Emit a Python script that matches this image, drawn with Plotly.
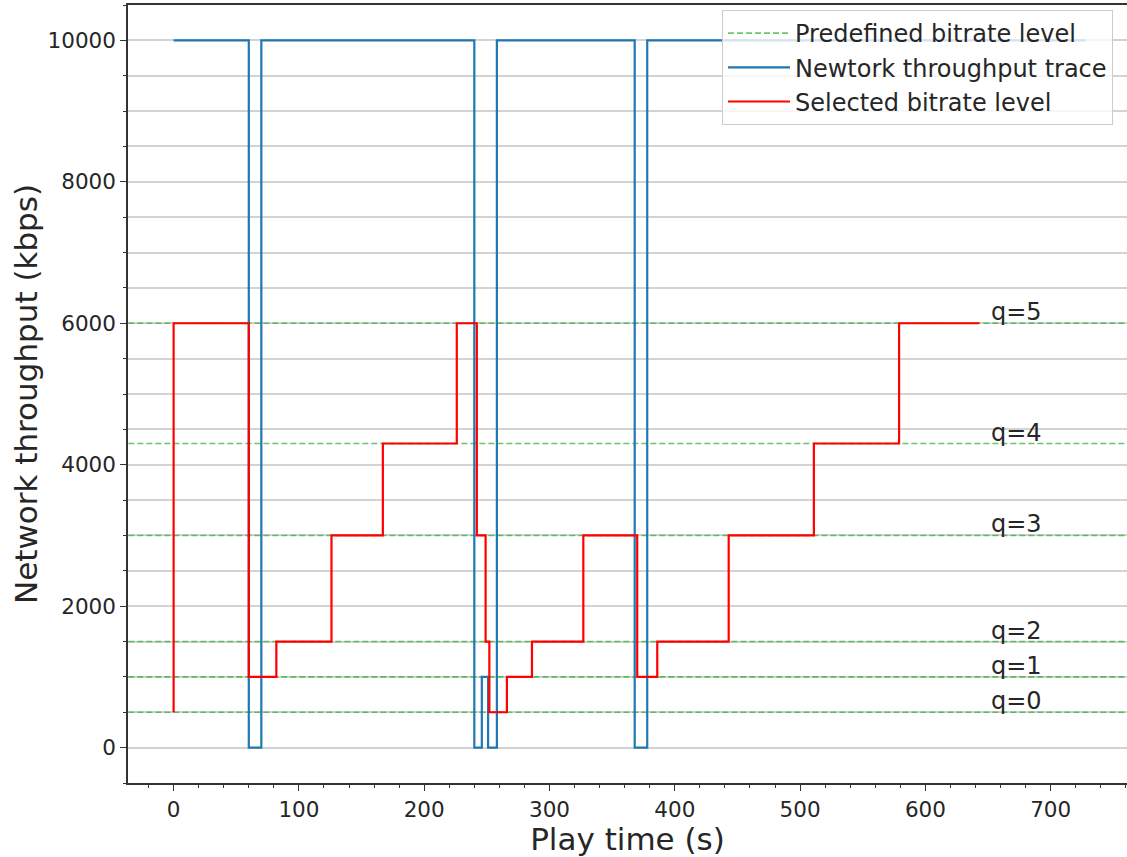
import plotly.graph_objects as go

# ---- data ----
levels = [500, 1000, 1500, 3000, 4300, 6000]
level_labels = ["q=0", "q=1", "q=2", "q=3", "q=4", "q=5"]

thr_t = [0, 60, 70, 240, 246, 251, 258, 368, 378, 728]
thr_v = [10000, 0, 10000, 0, 1000, 0, 10000, 0, 10000, 10000]

sel_t = [0, 0, 60, 82, 126, 167, 226, 242, 249, 252, 266, 286, 327, 370, 386, 443, 511, 579, 643]
sel_v = [500, 6000, 1000, 1500, 3000, 4300, 6000, 3000, 1500, 500, 1000, 1500, 3000, 1000, 1500, 3000, 4300, 6000, 6000]

x_ticks = [0, 100, 200, 300, 400, 500, 600, 700]
y_ticks = [0, 2000, 4000, 6000, 8000, 10000]
y_tick_text = ["0", "2000", "4000", "6000", "8000", "10000"]

x_range = [-36.4, 760.9]
y_range = [-500, 10500]
label_x = 651

FONT = "DejaVu Sans"
TXT = "#262626"

fig = go.Figure()

# predefined levels (dashed green)
gx, gy = [], []
for lv in levels:
    gx += [x_range[0] - 50, x_range[1] + 50, None]
    gy += [lv, lv, None]
fig.add_trace(go.Scatter(x=gx, y=gy, mode="lines", name="Predefined bitrate level",
                         line=dict(color="rgba(40,175,40,0.7)", width=1.6, dash="6px,3px"),
                         connectgaps=False))

fig.add_trace(go.Scatter(x=thr_t, y=thr_v, mode="lines", name="Newtork throughput trace",
                         line=dict(color="#1f77b4", width=2.2, shape="hv")))

fig.add_trace(go.Scatter(x=sel_t, y=sel_v, mode="lines", name="Selected bitrate level",
                         line=dict(color="#ff0000", width=2.2, shape="hv")))

for lv, lab in zip(levels, level_labels):
    fig.add_annotation(x=label_x, y=lv, text=lab, showarrow=False, xanchor="left",
                       yanchor="middle", yshift=11,
                       font=dict(family=FONT, size=24, color=TXT))

fig.update_layout(
    width=1127, height=857,
    margin=dict(l=128, r=0, t=5, b=74),
    paper_bgcolor="white", plot_bgcolor="white",
    font=dict(family=FONT, color=TXT),
    showlegend=True,
    legend=dict(x=0.5946, y=0.9936, xanchor="left", yanchor="top",
                bgcolor="rgba(255,255,255,0.8)", bordercolor="#cccccc", borderwidth=1,
                font=dict(family=FONT, size=24, color=TXT), itemwidth=62,
                tracegroupgap=0),
    xaxis=dict(range=x_range, tickvals=x_ticks, ticks="outside", ticklen=6, tickwidth=1.3,
               tickcolor="#333", showline=True, linecolor="#333", linewidth=1.5, mirror=True,
               showgrid=False, zeroline=False,
               minor=dict(dtick=20, tick0=0, ticks="outside", ticklen=3.5, tickcolor="#333", showgrid=False),
               tickfont=dict(family=FONT, size=21.5, color=TXT),
               title=dict(text="Play time (s)", font=dict(family=FONT, size=31, color=TXT), standoff=0)),
    yaxis=dict(range=y_range, tickvals=y_ticks, ticktext=y_tick_text, ticks="outside", ticklen=6, tickwidth=1.3,
               tickcolor="#333", showline=True, linecolor="#333", linewidth=1.5, mirror=False,
               showgrid=True, gridcolor="#d3d3d3", gridwidth=1.5, zeroline=False,
               minor=dict(dtick=500, tick0=0, ticks="outside", ticklen=3.5, tickcolor="#333",
                          showgrid=True, gridcolor="#d3d3d3", gridwidth=1.5),
               tickfont=dict(family=FONT, size=21.5, color=TXT),
               title=dict(text="Network throughput (kbps)", font=dict(family=FONT, size=31, color=TXT), standoff=1)),
)

fig.write_html("out.html")
